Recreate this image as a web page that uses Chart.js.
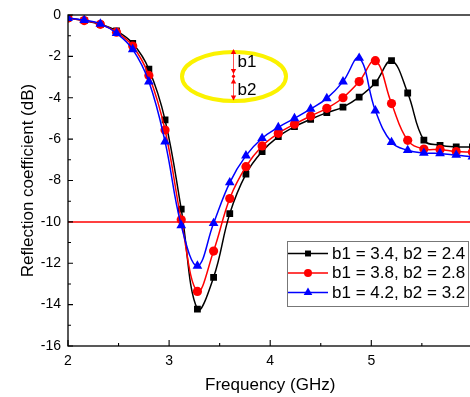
<!DOCTYPE html>
<html lang="en">
<head>
<meta charset="UTF-8">
<title>Reflection coefficient</title>
<script src="https://cdn.jsdelivr.net/npm/chart.js@4.4.1/dist/chart.umd.min.js"></script>
<style>
  html, body { margin: 0; padding: 0; background: #fff; overflow: hidden; }
  #wrap { position: relative; width: 478px; height: 397px; }
</style>
</head>
<body>
<div id="wrap"><canvas id="s11" width="478" height="397"></canvas></div>
<script>
// frequency points (GHz) where the markers sit
const freq = [2.0, 2.16, 2.32, 2.48, 2.64, 2.8, 2.96, 3.12, 3.28, 3.44, 3.6, 3.76, 3.92,
              4.08, 4.24, 4.4, 4.56, 4.72, 4.88, 5.04, 5.2, 5.36, 5.52, 5.68, 5.84, 6.0];

// reflection coefficient (dB)
const s11Black = [-0.15, -0.27, -0.45, -0.77, -1.37, -2.62, -5.07, -9.38, -14.22, -12.68, -9.6, -7.69, -6.6,
                  -5.88, -5.4, -5.04, -4.72, -4.45, -3.97, -3.28, -2.21, -3.77, -6.05, -6.3, -6.38, -6.38];
const s11Red = [-0.15, -0.27, -0.45, -0.83, -1.5, -2.92, -5.56, -9.9, -13.36, -11.41, -8.87, -7.33, -6.33,
                -5.72, -5.28, -4.88, -4.51, -4.0, -3.22, -2.21, -4.28, -6.06, -6.48, -6.5, -6.6, -6.62];
const s11Blue = [-0.15, -0.25, -0.43, -0.88, -1.66, -3.22, -6.12, -10.17, -12.13, -10.07, -8.1, -6.8, -5.96,
                 -5.43, -5.0, -4.54, -4.03, -3.22, -2.08, -4.62, -6.15, -6.54, -6.67, -6.69, -6.77, -6.85];

const seriesLabels = ['b1 = 3.4, b2 = 2.4', 'b1 = 3.8, b2 = 2.8', 'b1 = 4.2, b2 = 3.2'];
const refLevel = -10;

const xTicks = [2, 3, 4, 5, 6];
const xTickLabels = [2, 3, 4, 5];
const xMinor = [2.5, 3.5, 4.5, 5.5];
const yTicks = [-16, -14, -12, -10, -8, -6, -4, -2, 0];
const yMinor = [-15, -13, -11, -9, -7, -5, -3, -1];

const FONT = '"Liberation Sans", Arial, sans-serif';

function pts(vals) {
    return freq.map((f, i) => ({ x: f, y: vals[i] }));
}

const styles = [
    { color: '#000000', point: 'rect', radius: 4.8 },
    { color: '#ff0000', point: 'circle', radius: 4.6 },
    { color: '#0000ff', point: 'triangle', radius: 5.6 }
];

function series(i, vals) {
    const s = styles[i];
    return {
        label: seriesLabels[i],
        data: pts(vals),
        borderColor: s.color,
        backgroundColor: s.color,
        borderWidth: 1.5,
        pointStyle: s.point,
        pointRadius: s.radius,
        pointBorderWidth: 0,
        tension: 0.4,
        order: 3 - i
    };
}

// frame + inward ticks
const framePlugin = {
    id: 'frame',
    afterDatasetsDraw(chart) {
        const { ctx, chartArea: a, scales: { x, y } } = chart;
        ctx.save();
        ctx.strokeStyle = '#000';
        ctx.lineWidth = 1.3;
        ctx.strokeRect(a.left, a.top, a.right - a.left, a.bottom - a.top);
        ctx.lineWidth = 1.1;
        ctx.beginPath();
        xTicks.forEach(v => { const p = x.getPixelForValue(v); ctx.moveTo(p, a.bottom); ctx.lineTo(p, a.bottom - 6); });
        xMinor.forEach(v => { const p = x.getPixelForValue(v); ctx.moveTo(p, a.bottom); ctx.lineTo(p, a.bottom - 3); });
        yTicks.forEach(v => { const p = y.getPixelForValue(v); ctx.moveTo(a.left, p); ctx.lineTo(a.left + 5, p); });
        yMinor.forEach(v => { const p = y.getPixelForValue(v); ctx.moveTo(a.left, p); ctx.lineTo(a.left + 3, p); });
        ctx.stroke();
        ctx.restore();
    }
};

// legend box and the b1/b2 sketch
const notesPlugin = {
    id: 'notes',
    afterDraw(chart) {
        const ctx = chart.ctx;
        ctx.save();

        // legend
        ctx.fillStyle = '#fff';
        ctx.fillRect(287, 241, 182, 66);
        ctx.strokeStyle = '#777';
        ctx.lineWidth = 1;
        ctx.strokeRect(287.5, 241.5, 181, 65);
        const rows = [253.5, 273, 292.5];
        ctx.font = '17px ' + FONT;
        ctx.textBaseline = 'middle';
        seriesLabels.forEach((lab, i) => {
            const s = styles[i];
            ctx.strokeStyle = s.color;
            ctx.fillStyle = s.color;
            ctx.lineWidth = 1.5;
            ctx.beginPath();
            ctx.moveTo(288, rows[i]);
            ctx.lineTo(328, rows[i]);
            ctx.stroke();
            Chart.helpers.drawPoint(ctx, { pointStyle: s.point, radius: s.radius - 0.6, rotation: 0, borderWidth: 0 }, 308, rows[i]);
            ctx.fillStyle = '#000';
            ctx.fillText(lab, 332, rows[i] + 0.5);
        });

        // yellow ellipse
        ctx.strokeStyle = '#fbf200';
        ctx.lineWidth = 4;
        ctx.beginPath();
        ctx.ellipse(234, 76.5, 52, 24.5, 0, 0, Math.PI * 2);
        ctx.stroke();

        // red dimension arrows
        ctx.strokeStyle = '#ff5050';
        ctx.fillStyle = '#ff0000';
        ctx.lineWidth = 1;
        ctx.beginPath();
        ctx.moveTo(233.5, 50);
        ctx.lineTo(233.5, 100);
        ctx.stroke();
        function head(yTip, dir) {
            ctx.beginPath();
            ctx.moveTo(233.5, yTip);
            ctx.lineTo(230.8, yTip - dir * 5);
            ctx.lineTo(236.2, yTip - dir * 5);
            ctx.closePath();
            ctx.fill();
        }
        head(49, -1);
        head(74, 1);
        head(78.5, -1);
        head(100.5, 1);
        ctx.beginPath();
        ctx.arc(233.5, 76.3, 1.6, 0, Math.PI * 2);
        ctx.fill();

        ctx.fillStyle = '#000';
        ctx.font = '17px ' + FONT;
        ctx.textBaseline = 'middle';
        ctx.fillText('b1', 237.5, 62.5);
        ctx.fillText('b2', 237.5, 90);
        ctx.restore();
    }
};

new Chart(document.getElementById('s11').getContext('2d'), {
    type: 'line',
    data: {
        datasets: [
            series(0, s11Black),
            series(1, s11Red),
            series(2, s11Blue),
            {
                label: 'ref',
                data: [{ x: 2, y: refLevel }, { x: 6, y: refLevel }],
                borderColor: '#ff0000',
                borderWidth: 1.5,
                pointRadius: 0,
                order: 4
            }
        ]
    },
    options: {
        responsive: false,
        animation: false,
        devicePixelRatio: 1,
        layout: { padding: { top: 15, left: 0, right: 0, bottom: 0 } },
        plugins: { legend: { display: false }, tooltip: { enabled: false } },
        scales: {
            x: {
                type: 'linear',
                min: 2,
                max: 6,
                afterFit: s => { s.height = 51; s.paddingLeft = 0; s.paddingRight = 0; },
                grid: { display: false, drawTicks: false },
                border: { display: false },
                ticks: {
                    stepSize: 1,
                    padding: 7,
                    color: '#000',
                    font: { family: FONT, size: 14 },
                    callback: v => xTickLabels.includes(v) ? String(v) : ''
                },
                title: {
                    display: true,
                    text: 'Frequency (GHz)',
                    color: '#000',
                    font: { family: FONT, size: 17 },
                    padding: { top: 0, bottom: 1 }
                }
            },
            y: {
                min: -16,
                max: 0,
                afterFit: s => { s.width = 68; s.paddingTop = 0; s.paddingBottom = 0; },
                grid: { display: false, drawTicks: false },
                border: { display: false },
                ticks: {
                    stepSize: 2,
                    padding: 7,
                    color: '#000',
                    font: { family: FONT, size: 14 },
                    callback: v => yTicks.includes(v) ? String(v) : ''
                },
                title: {
                    display: true,
                    text: 'Reflection coefficient (dB)',
                    color: '#000',
                    font: { family: FONT, size: 17 },
                    padding: { top: 18, bottom: 0 }
                }
            }
        }
    },
    plugins: [framePlugin, notesPlugin]
});
</script>
</body>
</html>
